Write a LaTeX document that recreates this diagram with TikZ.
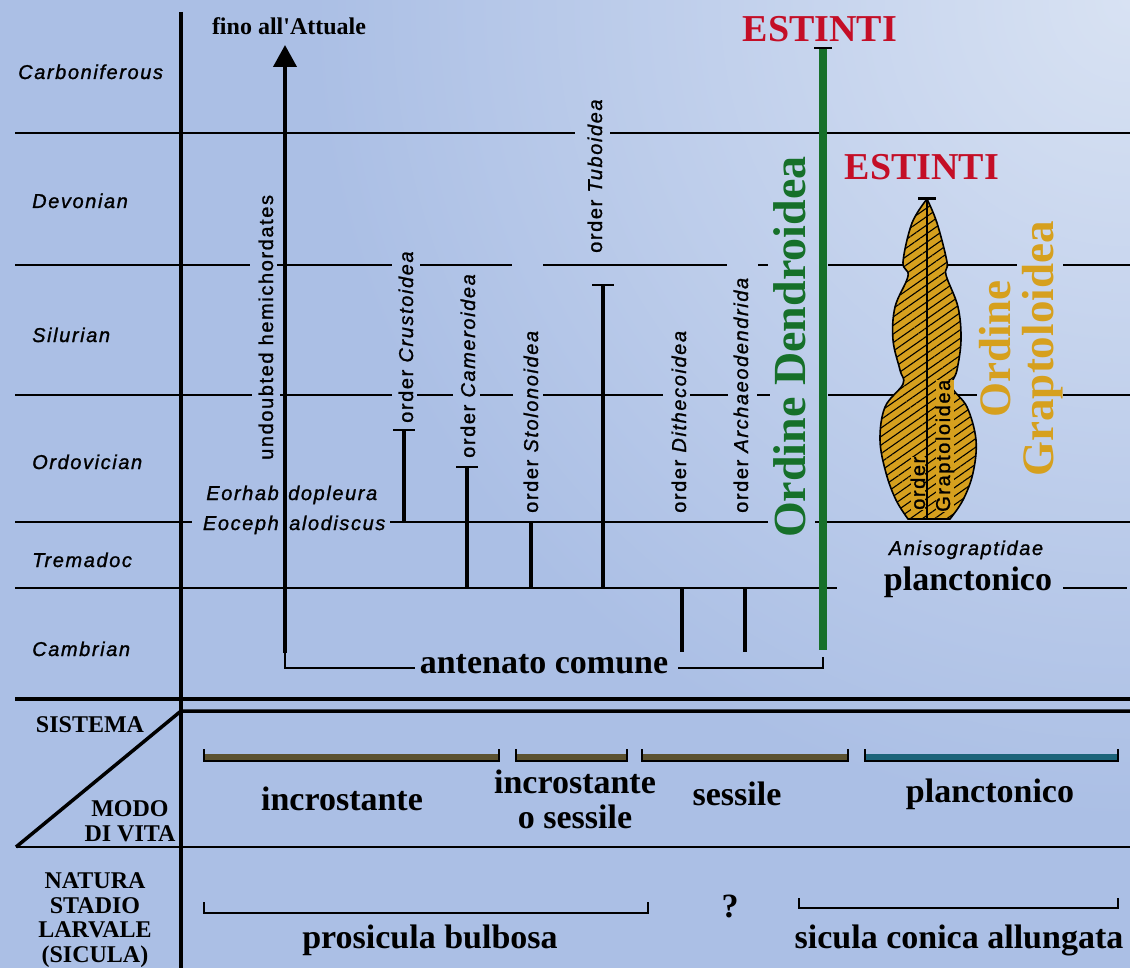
\documentclass[tikz,border=0pt]{standalone}
\usepackage{fontspec}
\setmainfont{Liberation Serif}
\newfontfamily\labsans[LetterSpace=8,FakeBold=1.2]{Liberation Sans}
\usetikzlibrary{arrows.meta,patterns.meta}
\definecolor{bgblue}{RGB}{171,191,229}
\definecolor{bglight}{RGB}{216,226,243}
\definecolor{extred}{RGB}{196,14,38}
\definecolor{dendgreen}{RGB}{22,112,42}
\definecolor{graptgold}{RGB}{214,160,30}
\definecolor{barolive}{RGB}{92,82,48}
\definecolor{barteal}{RGB}{28,100,122}
\newcommand{\sanslab}{\fontsize{20}{24}\selectfont\labsans}
\newcommand{\boldlab}[1]{\fontsize{#1}{#1}\selectfont\bfseries}

\tikzset{
  era/.style={font=\sanslab\itshape,anchor=base west,inner sep=0pt},
  taxon/.style={font=\sanslab,rotate=90,anchor=base west,inner sep=0pt},
  title/.style={font=\boldlab{34},anchor=base,inner sep=0pt},
  periodline/.style={line width=1.6pt},
  rangeline/.style={line width=4pt},
  capline/.style={line width=2.5pt}
}

\begin{document}
\begin{tikzpicture}[x=1pt,y=-1pt]
  \useasboundingbox (0,0) rectangle (1130,968);
  \fill[bgblue] (0,0) rectangle (1130,968);
  \begin{scope}
    \clip (0,0) rectangle (1130,968);
    \shade[inner color=bglight,outer color=bgblue] (1130,0) circle[radius=820];
  \end{scope}
  % time scale
  \foreach \y/\segs in {133/{15/575,610/1130},
      265/{15/250,277/392,420/512,543/727,758/768,828/1017,1063/1130},
      395/{15/252,280/392,417/453,480/513,543/663,690/728,757/770,828/977,1063/1130},
      522/{15/192,390/768,815/1130},
      588/{15/837,1063/1127}} {
    \foreach \a/\b in \segs { \draw[periodline] (\a,\y) -- (\b,\y); } }
  \draw[line width=3.5pt] (15,699) -- (1130,699);
  \draw[line width=3.5pt] (16,847) -- (181,711) -- (1130,711);
  \draw[periodline] (16,847) -- (1130,847);
  \draw[line width=4pt] (181,12) -- (181,968);
  \node[era] (carb) at (18,79) {Carboniferous};
  \foreach \n/\y/\t in {dev/208/Devonian,sil/342/Silurian,ord/469/Ordovician,
      trem/567/Tremadoc,camb/656/Cambrian}
    \node[era] (\n) at (32,\y) {\t};
  % ranges of the orders
  \foreach \x/\t/\b in {404/430/522,467/467/588,531/522/588,603/285/588,682/588/652,745/588/652} {
    \draw[rangeline] (\x,\t) -- (\x,\b);
    \draw[capline] ({\x-11},\t) -- ({\x+11},\t); }
  \draw[rangeline,-{Triangle[width=23pt,length=22pt]}] (285,653) -- (285,45);
  \node[font=\boldlab{24},anchor=base,inner sep=0pt] (attuale) at (289,35) {fino all\textquotesingle Attuale};
  \node[taxon] (hemi) at (273,460) {undoubted hemichordates};
  \node[taxon] (crust) at (413,423) {order \textit{Crustoidea}};
  \node[taxon] (camer) at (475,458) {order \textit{Cameroidea}};
  \node[taxon] (stolo) at (538,513) {order \textit{Stolonoidea}};
  \node[taxon] (tubo) at (602,253) {order \textit{Tuboidea}};
  \node[taxon] (dithe) at (686,513) {order \textit{Dithecoidea}};
  \node[taxon] (archa) at (748,513) {order \textit{Archaeodendrida}};
  \node[era,anchor=base east] (eorh) at (279,500) {Eorhab};
  \node[era] (eorhb) at (288,500) {dopleura};
  \node[era,anchor=base east] (eoce) at (279,530) {Eoceph};
  \node[era] (eoceb) at (289,530) {alodiscus};
  % common ancestor
  \node[title] (anten) at (544,673) {antenato comune};
  \draw[periodline] (285,651) |- ([xshift=-5pt,yshift=5pt]anten.base west);
  \draw[periodline] ([xshift=10pt,yshift=5pt]anten.base east) -| (823,657);
  % Dendroidea
  \draw[line width=8pt,dendgreen] (823,48) -- (823,650);
  \draw[capline] (814,48) -- (832,48);
  \node[font=\boldlab{38},text=extred,anchor=base,inner sep=0pt] (ext1) at (820,42) {ESTINTI};
  \node[font=\boldlab{46},text=dendgreen,rotate=90,anchor=base west,inner sep=0pt] (dend) at (805,538) {Ordine Dendroidea};
  % Graptoloidea
  \path[preaction={fill=graptgold},pattern={Lines[angle=35,distance=7pt,line width=1.1pt]},
      pattern color=black,draw,line width=1.6pt]
    plot[smooth,tension=0.6] coordinates {(908,519) (896,500) (886,473) (880,440) (885,407)
      (903,384) (900,370) (893,340) (895,307) (908,276) (903,262) (912,223) (927,199)}
    -- plot[smooth,tension=0.6] coordinates {(927,199) (937,223) (947,262) (946,275) (958,307)
      (961,340) (957,370) (952,387) (967,407) (976,440) (973,473) (963,500) (950,519)} -- cycle;
  \node[taxon,font=\sanslab,fill=graptgold] (gord) at (925,510) {order};
  \node[taxon,font=\sanslab,fill=graptgold] (gname) at (950,512) {Graptoloidea};
  \draw[line width=1.6pt] (927,199) -- (927,519);
  \draw[capline,line width=3pt] (918,199) -- (936,199);
  \node[font=\boldlab{38},text=extred,anchor=base,inner sep=0pt] (ext2) at (922,180) {ESTINTI};
  \node[font=\fontsize{45}{43}\selectfont\bfseries,text=graptgold,rotate=90,align=center,inner sep=0pt] (grap) at (1021,349) {Ordine\\Graptoloidea};
  \node[era,anchor=base] (aniso) at (966,555) {Anisograptidae};
  \node[title] (plank) at (968,590) {planctonico};
  % modo di vita
  \node[font=\boldlab{24},anchor=base,inner sep=0pt] (sist) at (90,732) {SISTEMA};
  \node[font=\fontsize{24}{25}\selectfont\bfseries,align=center,inner sep=0pt] (modo) at (130,821) {MODO\\DI VITA};
  \foreach \a/\b/\c in {204/499/barolive,516/627/barolive,642/848/barolive,865/1118/barteal} {
    \draw[line width=7pt,\c] (\a,757) -- (\b,757);
    \draw[line width=1.5pt] (\a,749) -- (\a,761) -- (\b,761) -- (\b,749); }
  \node[title] (incr) at (342,810) {incrostante};
  \node[font=\fontsize{34}{35}\selectfont\bfseries,align=center,inner sep=0pt] (incrs) at (575,799) {incrostante\\o sessile};
  \node[title] (sess) at (737,805) {sessile};
  \node[title] (plankb) at (990,802) {planctonico};
  % larval stage
  \node[font=\fontsize{24}{24.5}\selectfont\bfseries,align=center,inner sep=0pt] (natura) at (95,920) {NATURA\\STADIO\\LARVALE\\(SICULA)};
  \draw[periodline] (204,902) |- (648,913) -- (648,902);
  \draw[periodline] (799,898) |- (1118,908) -- (1118,898);
  \node[title] (bulb) at (430,948) {prosicula bulbosa};
  \node[title] (quest) at (730,917) {?};
  \node[title] (sicula) at (959,948) {sicula conica allungata};
\end{tikzpicture}
\end{document}
